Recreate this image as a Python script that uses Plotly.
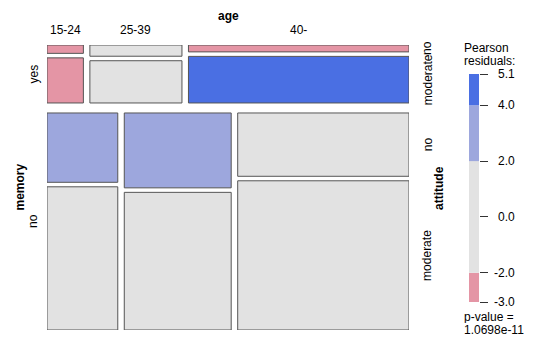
import numpy as np
import plotly.graph_objects as go

# ---- data ----
age = ["15-24", "25-39", "40-"]
memory = ["yes", "no"]
attitude = ["no", "moderate"]
# counts[memory][attitude][age]
yes_no = [5, 17, 25]
yes_moderate = [27, 64, 169]
no_no = [76, 124, 168]
no_moderate = [157, 228, 396]
legend_title = ["Pearson", "residuals:"]
p_value_lines = ["p-value =", "1.0698e-11"]

counts = np.array([[yes_no, yes_moderate], [no_no, no_moderate]], dtype=float)  # [mem, att, age]
N = counts.sum()
pm = counts.sum(axis=(1, 2)) / N
pa = counts.sum(axis=(0, 2)) / N
pg = counts.sum(axis=(0, 1)) / N
expected = N * pm[:, None, None] * pa[None, :, None] * pg[None, None, :]
resid = (counts - expected) / np.sqrt(expected)
rmin, rmax = resid.min(), resid.max()

def shade(r):
    if r >= 4: return "#4A6FE3"
    if r >= 2: return "#9DA7DD"
    if r <= -4: return "#D33F6A"
    if r <= -2: return "#E495A5"
    return "#E2E2E2"

W, H = 540, 339
def py(px):
    return (H - px) / H

fig = go.Figure()
shapes = []
annotations = []
font = dict(family="Liberation Sans, Arial, sans-serif", size=12, color="black")
bfont = dict(family="Liberation Sans, Arial, sans-serif", size=12, color="black", weight="bold")

# mosaic geometry (unit coordinates)
gap_mem = 10 / 285
gap_att = 4.5 / 285
gap_age = 6.5 / 362
content_h = 1 - gap_mem * (len(memory) - 1)
content_w = 1 - gap_age * (len(age) - 1)

y0 = 0.0
for m in range(len(memory)):
    rh = pm[m] * content_h
    tot_age = counts[m].sum(axis=0)
    x0 = 0.0
    for g in range(len(age)):
        w = tot_age[g] / tot_age.sum() * content_w
        th = rh - gap_att
        yy = y0
        for a in range(len(attitude)):
            h = counts[m, a, g] / tot_age[g] * th
            shapes.append(dict(type="rect", xref="x", yref="y", x0=x0, x1=x0 + w, y0=yy, y1=yy + h,
                               fillcolor=shade(resid[m, a, g]), line=dict(color="#555555", width=1)))
            if g == len(age) - 1:
                annotations.append(dict(xref="paper", yref="y", x=427.5 / W, y=yy + h / 2,
                                        text=attitude[a], textangle=-90, showarrow=False, font=font,
                                        xanchor="center", yanchor="middle"))
            yy += h + gap_att
        if m == 0:
            annotations.append(dict(xref="x", yref="paper", x=x0 + w / 2, y=py(30), text=age[g],
                                    showarrow=False, font=font, xanchor="center", yanchor="middle"))
        x0 += w + gap_age
    annotations.append(dict(xref="paper", yref="y", x=33.5 / W, y=y0 + rh / 2, text=memory[m],
                            textangle=-90, showarrow=False, font=font, xanchor="center", yanchor="middle"))
    y0 += rh + gap_mem

annotations += [
    dict(xref="paper", yref="paper", x=228 / W, y=py(16), text="age", showarrow=False, font=bfont,
         xanchor="center", yanchor="middle"),
    dict(xref="paper", yref="paper", x=19 / W, y=py(187.5), text="memory", textangle=-90, showarrow=False,
         font=bfont, xanchor="center", yanchor="middle"),
    dict(xref="paper", yref="paper", x=439 / W, y=py(188), text="attitude", textangle=-90, showarrow=False,
         font=bfont, xanchor="center", yanchor="middle"),
]
for i, t in enumerate(legend_title):
    annotations.append(dict(xref="paper", yref="paper", x=463 / W, y=py(48.5 + 12.5 * i), text=t,
                            showarrow=False, font=font, xanchor="left", yanchor="middle",
                            height=12, borderpad=0))
for i, t in enumerate(p_value_lines):
    annotations.append(dict(xref="paper", yref="paper", x=463 / W, y=py(316.5 + 13.5 * i), text=t,
                            showarrow=False, font=font, xanchor="left", yanchor="middle",
                            height=12, borderpad=0))

# legend bar
bins = [rmin, -2, 2, 4, rmax]
bin_cols = ["#E495A5", "#E2E2E2", "#9DA7DD", "#4A6FE3"]
for i in range(len(bin_cols)):
    shapes.append(dict(type="rect", xref="x2", yref="y2", x0=0, x1=1, y0=bins[i], y1=bins[i + 1],
                       fillcolor=bin_cols[i], line=dict(width=0), layer="below"))
tickvals = [rmin, -2, 0, 2, 4, rmax]
for v in tickvals:
    annotations.append(dict(xref="paper", yref="y2", x=517 / W, y=v, text=f"{v:.1f}", showarrow=False,
                            font=font, xanchor="right", yanchor="middle"))

fig.add_trace(go.Scatter(x=[0], y=[0], mode="markers", marker=dict(opacity=0), hoverinfo="skip",
                         showlegend=False))
fig.add_trace(go.Scatter(x=[0], y=[0], mode="markers", marker=dict(opacity=0), hoverinfo="skip",
                         showlegend=False, xaxis="x2", yaxis="y2"))

fig.update_layout(
    width=W, height=H, margin=dict(l=0, r=0, t=0, b=0),
    paper_bgcolor="white", plot_bgcolor="white",
    showlegend=False,
    xaxis=dict(domain=[47 / W, 409 / W], range=[0, 1], visible=False, fixedrange=True),
    yaxis=dict(domain=[py(330), py(45)], range=[1, 0], visible=False, fixedrange=True),
    xaxis2=dict(domain=[469 / W, 479 / W], range=[0, 1], visible=False, anchor="y2"),
    yaxis2=dict(domain=[py(302), py(74)], range=[rmin, rmax], anchor="x2", side="right",
                tickmode="array", tickvals=tickvals, ticks="outside", ticklen=8, tickcolor="#333333",
                showticklabels=False, showgrid=False, zeroline=False, showline=False),
    shapes=shapes, annotations=annotations,
)
fig.write_html("out.html")
